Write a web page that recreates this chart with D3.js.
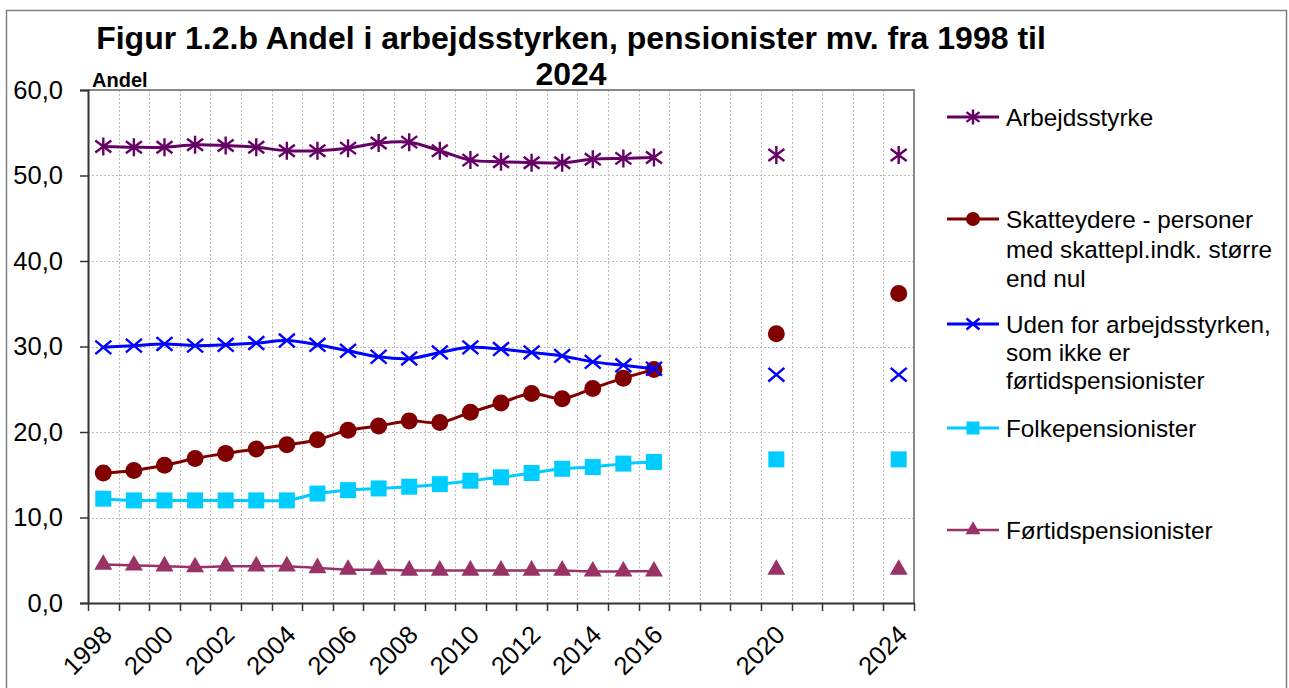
<!DOCTYPE html>
<html>
<head>
<meta charset="utf-8">
<script src="https://cdn.jsdelivr.net/npm/d3@7"></script>
<style>
  html, body { margin: 0; padding: 0; background: #fff; }
  svg { display: block; font-family: "Liberation Sans", Arial, sans-serif; }
</style>
</head>
<body>
<svg id="chart" width="1289" height="688"></svg>
<script>
// ---------- DATA ----------
const categories = d3.range(1998, 2025);               // every year on the axis
const years = [1998,1999,2000,2001,2002,2003,2004,2005,2006,2007,2008,2009,2010,2011,2012,2013,2014,2015,2016,2020,2024];
const lineYearsCount = 19;                             // 1998-2016 connected, 2020 & 2024 markers only
const tickLabels = [1998,2000,2002,2004,2006,2008,2010,2012,2014,2016,2020,2024];
const yTicks = [0,10,20,30,40,50,60];

const arbejdsstyrke = [53.4,53.3,53.3,53.6,53.5,53.3,52.9,52.9,53.2,53.8,53.9,52.9,51.8,51.6,51.5,51.5,51.9,52.0,52.1,52.4,52.4];
const skatteydere   = [15.2,15.5,16.1,16.9,17.5,18.0,18.5,19.1,20.2,20.7,21.3,21.1,22.3,23.4,24.5,23.9,25.1,26.3,27.3,31.5,36.2];
const udenFor       = [29.9,30.1,30.3,30.1,30.2,30.4,30.7,30.2,29.5,28.8,28.6,29.3,29.9,29.7,29.3,28.9,28.2,27.8,27.4,26.7,26.7];
const folkepension  = [12.2,12.0,12.0,12.0,12.0,12.0,12.0,12.8,13.2,13.4,13.6,13.9,14.3,14.7,15.2,15.7,15.9,16.3,16.5,16.8,16.8];
const fortids       = [4.5,4.4,4.3,4.2,4.3,4.3,4.3,4.1,3.9,3.9,3.8,3.8,3.8,3.8,3.8,3.8,3.7,3.7,3.7,3.9,3.9];

const seriesNames = [
  ["Arbejdsstyrke"],
  ["Skatteydere - personer", "med skattepl.indk. større", "end nul"],
  ["Uden for arbejdsstyrken,", "som ikke er", "førtidspensionister"],
  ["Folkepensionister"],
  ["Førtidspensionister"]
];
const seriesValues = [arbejdsstyrke, skatteydere, udenFor, folkepension, fortids];

const titleLines = ["Figur 1.2.b Andel i arbejdsstyrken, pensionister mv. fra 1998 til", "2024"];
const yAxisTitle = "Andel";

// ---------- STYLE ----------
const styles = [
  {color: "#660066", marker: "star",     width: 3},
  {color: "#800000", marker: "circle",   width: 3},
  {color: "#0000FF", marker: "x",        width: 3},
  {color: "#00CCFF", marker: "square",   width: 3},
  {color: "#993366", marker: "triangle", width: 2.5}
];
const legendY = [[117],[219,249,278],[324,352,380],[428],[530]];

const svg = d3.select("#chart");
const M = {left: 88, right: 914, top: 90, bottom: 603};

const x = d3.scaleBand().domain(categories).range([M.left, M.right]).padding(0);
const y = d3.scaleLinear().domain([0, 60]).range([M.bottom, M.top]);
const cx = yr => x(yr) + x.bandwidth() / 2;

// outer frame
svg.append("rect").attr("x", 6.5).attr("y", 10.5).attr("width", 1280).attr("height", 700)
  .attr("fill", "#fff").attr("stroke", "#808080").attr("stroke-width", 1.5);

// gridlines
const grid = svg.append("g").attr("stroke", "#bdbdbd").attr("stroke-width", 1).attr("stroke-dasharray", "2,2");
const bounds = categories.map(c => x(c)).concat([M.right]);
grid.selectAll("line.v").data(bounds.slice(1, -1)).join("line")
  .attr("x1", d => Math.round(d) + 0.5).attr("x2", d => Math.round(d) + 0.5)
  .attr("y1", M.top).attr("y2", M.bottom);
grid.selectAll("line.h").data(yTicks.slice(1, -1)).join("line")
  .attr("x1", M.left).attr("x2", M.right)
  .attr("y1", d => Math.round(y(d)) + 0.5).attr("y2", d => Math.round(y(d)) + 0.5);

// plot border top/right
svg.append("path").attr("d", `M${M.left},${M.top}H${M.right}V${M.bottom}`)
  .attr("fill", "none").attr("stroke", "#888").attr("stroke-width", 2);

// y axis
const yAxis = svg.append("g").attr("transform", `translate(${M.left},0)`)
  .call(d3.axisLeft(y).tickValues(yTicks).tickSize(8).tickPadding(17)
    .tickFormat(d => d.toFixed(1).replace(".", ",")));
yAxis.select(".domain").attr("stroke", "#333").attr("stroke-width", 2);
yAxis.selectAll(".tick line").attr("stroke", "#333").attr("stroke-width", 1.5);
yAxis.selectAll(".tick text").attr("font-size", 25.5).attr("fill", "#000")
  .attr("font-family", "Liberation Sans, Arial, sans-serif");

// x axis
const xAxis = svg.append("g").attr("transform", `translate(0,${M.bottom})`)
  .call(d3.axisBottom(x).tickValues(tickLabels).tickSize(0).tickPadding(0));
xAxis.select(".domain").attr("stroke", "#333").attr("stroke-width", 2);
xAxis.selectAll(".tick text")
  .attr("font-size", 25.5).attr("fill", "#000")
  .attr("font-family", "Liberation Sans, Arial, sans-serif")
  .attr("text-anchor", "end")
  .attr("transform", "translate(4,27) rotate(-45)")
  .attr("dy", "0.35em").attr("y", 0);
svg.append("g").selectAll("line").data(bounds).join("line")
  .attr("x1", d => Math.round(d) + 0.5).attr("x2", d => Math.round(d) + 0.5)
  .attr("y1", M.bottom).attr("y2", M.bottom + 8)
  .attr("stroke", "#333").attr("stroke-width", 1.5);

// markers
function drawMarker(g, type, color, px, py, s) {
  const r = s || 7;
  if (type === "star") {
    g.append("path").attr("d", `M${px},${py-r-1}V${py+r+1}M${px-r},${py-r*0.75}L${px+r},${py+r*0.75}M${px-r},${py+r*0.75}L${px+r},${py-r*0.75}`)
      .attr("stroke", color).attr("stroke-width", 2.4).attr("fill", "none");
  } else if (type === "x") {
    g.append("path").attr("d", `M${px-r},${py-r*0.85}L${px+r},${py+r*0.85}M${px-r},${py+r*0.85}L${px+r},${py-r*0.85}`)
      .attr("stroke", color).attr("stroke-width", 2.4).attr("fill", "none");
  } else if (type === "circle") {
    g.append("path").attr("d", d3.symbol(d3.symbolCircle, Math.PI * (r+0.5) * (r+0.5))())
      .attr("transform", `translate(${px},${py})`).attr("fill", color);
  } else if (type === "square") {
    g.append("path").attr("d", d3.symbol(d3.symbolSquare, (2*r) * (2*r))())
      .attr("transform", `translate(${px},${py})`).attr("fill", color);
  } else if (type === "triangle") {
    g.append("path").attr("d", d3.symbol(d3.symbolTriangle, 0.433 * (2*r+2) * (2*r+2))())
      .attr("transform", `translate(${px},${py})`).attr("fill", color);
  }
}

const lineGen = d3.line().x(d => cx(d.year)).y(d => y(d.value)).curve(d3.curveCatmullRom.alpha(0.5));

seriesValues.forEach((vals, i) => {
  const st = styles[i];
  const pts = years.map((yr, j) => ({year: yr, value: vals[j]}));
  const g = svg.append("g");
  g.append("path").datum(pts.slice(0, lineYearsCount)).attr("d", lineGen)
    .attr("fill", "none").attr("stroke", st.color).attr("stroke-width", st.width)
    .attr("stroke-linejoin", "round");
  pts.forEach(p => drawMarker(g, st.marker, st.color, cx(p.year), y(p.value), 8));
});

// legend
seriesNames.forEach((lines, i) => {
  const st = styles[i];
  const ly = legendY[i][0];
  const g = svg.append("g");
  g.append("line").attr("x1", 947).attr("x2", 999).attr("y1", ly).attr("y2", ly)
    .attr("stroke", st.color).attr("stroke-width", st.width);
  drawMarker(g, st.marker, st.color, 973, ly, 6.5);
  lines.forEach((t, k) => {
    g.append("text").attr("x", 1006).attr("y", legendY[i][k]).attr("dy", "0.35em")
      .attr("font-size", 24.3).attr("fill", "#000").text(t);
  });
});

// titles
svg.append("text").attr("x", 571).attr("y", 49).attr("text-anchor", "middle")
  .attr("font-size", 32).attr("font-weight", "bold").text(titleLines[0]);
svg.append("text").attr("x", 571).attr("y", 85).attr("text-anchor", "middle")
  .attr("font-size", 32).attr("font-weight", "bold").text(titleLines[1]);
svg.append("text").attr("x", 92).attr("y", 87).attr("font-size", 20).attr("font-weight", "bold").text(yAxisTitle);
</script>
</body>
</html>
